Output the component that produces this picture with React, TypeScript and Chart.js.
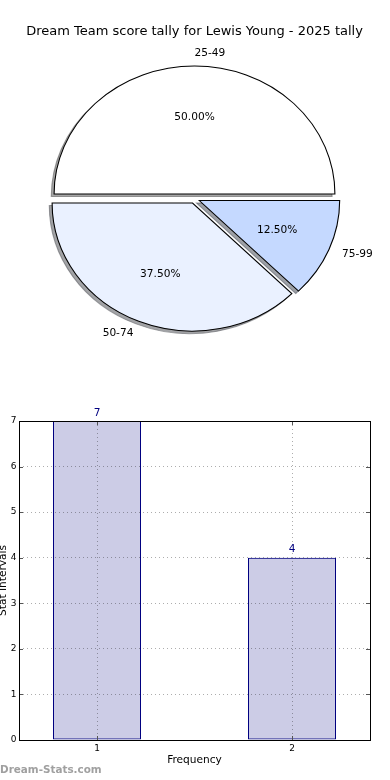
import React, { useEffect, useRef } from 'react';
import { Chart, registerables } from 'chart.js';

Chart.register(...registerables);

const FONT = 'DejaVu Sans';
Chart.defaults.font.family = FONT;
Chart.defaults.color = '#000';

// ---------- data ----------
const TITLE = 'Dream Team score tally for Lewis Young - 2025 tally';
const pieLabels = ['25-49', '50-74', '75-99'];
const pieValues = [4, 3, 1];
const pieColors = ['#ffffff', '#eaf1ff', '#c5d9ff'];

const barX = [1, 2];
const barValues = [7, 4];
const xAxisTitle = 'Frequency';
const yAxisTitle = 'Stat Intervals';
const WATERMARK = 'Dream-Stats.com';

// ---------- styling constants ----------
const R = 128; // vertical radius (px)
const SX = 1.097; // horizontal stretch of the pie
const EXPLODE = 4.7;
const SHADOW = 0.02;
const GRID = 'rgba(0,0,0,0.32)';

function shadowOf(color: string): string {
  const hex = color.replace('#', '');
  const n = parseInt(hex, 16);
  const r = (n >> 16) & 255;
  const g = (n >> 8) & 255;
  const b = n & 255;
  return `rgba(${Math.round(r * 0.3)},${Math.round(g * 0.3)},${Math.round(b * 0.3)},0.5)`;
}

const piePlugin = {
  id: 'pieExplode',
  beforeDatasetDraw(chart: any, args: any) {
    const ctx = chart.ctx as CanvasRenderingContext2D;
    const arcs = args.meta.data as any[];
    if (!arcs.length) return false;
    const cx = arcs[0].x;
    const cy = arcs[0].y;
    ctx.save();
    ctx.translate(cx, cy);
    ctx.scale(SX, 1);
    ctx.translate(-cx, -cy);
    // shadows
    arcs.forEach((arc) => {
      const mid = (arc.startAngle + arc.endAngle) / 2;
      const c = shadowOf(arc.options.backgroundColor);
      const sh = Object.create(arc);
      sh.options = Object.assign({}, arc.options, {
        backgroundColor: c,
        borderColor: c,
        borderWidth: 1,
      });
      ctx.save();
      ctx.translate(
        Math.cos(mid) * EXPLODE - SHADOW * arc.outerRadius,
        Math.sin(mid) * EXPLODE + SHADOW * arc.outerRadius
      );
      sh.draw(ctx);
      ctx.restore();
    });
    // wedges
    arcs.forEach((arc) => {
      const mid = (arc.startAngle + arc.endAngle) / 2;
      ctx.save();
      ctx.translate(Math.cos(mid) * EXPLODE, Math.sin(mid) * EXPLODE);
      arc.draw(ctx);
      ctx.restore();
    });
    ctx.restore();
    return false;
  },
  afterDraw(chart: any) {
    const ctx = chart.ctx as CanvasRenderingContext2D;
    const meta = chart.getDatasetMeta(0);
    const labels = chart.data.labels as string[];
    const values = chart.data.datasets[0].data as number[];
    const total = values.reduce((a, b) => a + b, 0);
    const ca = chart.chartArea;
    ctx.save();
    ctx.fillStyle = '#000';
    ctx.font = `13px "${FONT}"`;
    ctx.textAlign = 'center';
    ctx.textBaseline = 'alphabetic';
    ctx.fillText(TITLE, (ca.left + ca.right) / 2, 35);
    const fs = 10.6;
    ctx.font = `${fs}px "${FONT}"`;
    const dy = 0.262 * fs;
    meta.data.forEach((arc: any, i: number) => {
      const mid = (arc.startAngle + arc.endAngle) / 2;
      const c = Math.cos(mid);
      const s = Math.sin(mid);
      const rl = EXPLODE + 1.1 * arc.outerRadius;
      ctx.textAlign = c > -1e-9 ? 'left' : 'right';
      ctx.fillText(labels[i], arc.x + c * rl * SX, arc.y + s * rl + dy);
      const rp = EXPLODE + 0.6 * arc.outerRadius;
      ctx.textAlign = 'center';
      ctx.fillText(((values[i] / total) * 100).toFixed(2) + '%', arc.x + c * rp * SX, arc.y + s * rp + dy);
    });
    ctx.restore();
  },
};

const barPlugin = {
  id: 'barDecor',
  afterDraw(chart: any) {
    const ctx = chart.ctx as CanvasRenderingContext2D;
    const a = chart.chartArea;
    const xs = chart.scales.x;
    const ys = chart.scales.y;
    ctx.save();
    const line = (x1: number, y1: number, x2: number, y2: number) => {
      ctx.beginPath();
      ctx.moveTo(x1, y1);
      ctx.lineTo(x2, y2);
      ctx.stroke();
    };
    ctx.strokeStyle = '#555';
    ctx.lineWidth = 1;
    ys.ticks.forEach((t: any) => {
      const y = Math.round(ys.getPixelForValue(t.value)) + 0.5;
      line(a.left, y, a.left + 4, y);
      line(a.right - 4, y, a.right, y);
    });
    xs.ticks.forEach((t: any) => {
      const x = Math.round(xs.getPixelForValue(t.value)) + 0.5;
      line(x, a.bottom, x, a.bottom - 4);
      line(x, a.top, x, a.top + 4);
    });
    ctx.strokeStyle = '#000';
    ctx.strokeRect(
      Math.round(a.left) + 0.5,
      Math.round(a.top) + 0.5,
      Math.round(a.right) - Math.round(a.left),
      Math.round(a.bottom) - Math.round(a.top)
    );
    // value labels
    const meta = chart.getDatasetMeta(0);
    const data = chart.data.datasets[0].data as any[];
    ctx.fillStyle = '#000080';
    ctx.font = `10.6px "${FONT}"`;
    ctx.textAlign = 'center';
    ctx.textBaseline = 'alphabetic';
    meta.data.forEach((bar: any, i: number) => {
      ctx.fillText(String(data[i].y), bar.x, bar.y - 5.5);
    });
    // watermark
    ctx.fillStyle = '#a0a0a0';
    ctx.font = `bold 10.4px "${FONT}"`;
    ctx.textAlign = 'left';
    ctx.fillText(WATERMARK, 0, 383.3);
    ctx.restore();
  },
};

function PieChart() {
  const ref = useRef<HTMLCanvasElement>(null);
  useEffect(() => {
    if (!ref.current) return;
    const chart = new Chart(ref.current, {
      type: 'pie',
      data: {
        labels: [...pieLabels].reverse(),
        datasets: [
          {
            data: [...pieValues].reverse(),
            backgroundColor: [...pieColors].reverse(),
            borderColor: '#000',
            borderWidth: 1,
            borderJoinStyle: 'miter',
          } as any,
        ],
      },
      options: {
        responsive: false,
        animation: false,
        events: [],
        rotation: 90,
        radius: R,
        layout: { padding: { top: 0, left: 0, right: 1, bottom: 0.6 } },
        plugins: {
          legend: { display: false },
          tooltip: { enabled: false },
          title: { display: false },
        },
      } as any,
      plugins: [piePlugin as any],
    });
    return () => chart.destroy();
  }, []);
  return (
    <canvas
      ref={ref}
      width={390}
      height={398}
      style={{ position: 'absolute', left: 0, top: 0, width: 390, height: 398 }}
    />
  );
}

function BarChart() {
  const ref = useRef<HTMLCanvasElement>(null);
  useEffect(() => {
    if (!ref.current) return;
    const gridOpts = { offset: false, z: 1, color: GRID, lineWidth: 1, drawTicks: false };
    const borderOpts = { display: false, dash: [1, 3] };
    const chart = new Chart(ref.current, {
      type: 'bar',
      data: {
        datasets: [
          {
            data: barX.map((x, i) => ({ x, y: barValues[i] })),
            backgroundColor: 'rgba(0,0,128,0.2)',
            borderColor: '#000080',
            borderWidth: 1,
            borderSkipped: false,
            barPercentage: 88 / 195,
            categoryPercentage: 1,
          } as any,
        ],
      },
      options: {
        responsive: false,
        animation: false,
        events: [],
        layout: { padding: { top: 31, right: 20, bottom: 0, left: 0 } },
        plugins: { legend: { display: false }, tooltip: { enabled: false } },
        scales: {
          x: {
            type: 'linear',
            min: 0.6,
            max: 2.4,
            offset: false,
            afterBuildTicks: (s: any) => {
              s.ticks = barX.map((v) => ({ value: v }));
            },
            afterFit: (s: any) => {
              s.height = 40;
            },
            grid: gridOpts,
            border: borderOpts,
            ticks: { font: { size: 9 }, color: '#000', padding: 3, maxRotation: 0 },
            title: {
              display: true,
              text: xAxisTitle,
              font: { size: 10.6 },
              color: '#000',
              padding: { top: 0, bottom: 13.3 },
            },
          },
          y: {
            type: 'linear',
            min: 0,
            max: 7,
            afterFit: (s: any) => {
              s.width = 19;
            },
            grid: gridOpts,
            border: borderOpts,
            ticks: { stepSize: 1, font: { size: 9 }, color: '#000', padding: 2.5 },
            title: {
              display: true,
              text: yAxisTitle,
              font: { size: 10.6 },
              color: '#000',
              padding: { top: -3.5, bottom: 0 },
            },
          },
        },
      } as any,
      plugins: [barPlugin as any],
    });
    return () => chart.destroy();
  }, []);
  return (
    <canvas
      ref={ref}
      width={390}
      height={390}
      style={{ position: 'absolute', left: 0, top: 390, width: 390, height: 390 }}
    />
  );
}

export default function App() {
  return (
    <div style={{ position: 'absolute', left: 0, top: 0, width: 390, height: 780, background: '#fff' }}>
      <PieChart />
      <BarChart />
    </div>
  );
}
